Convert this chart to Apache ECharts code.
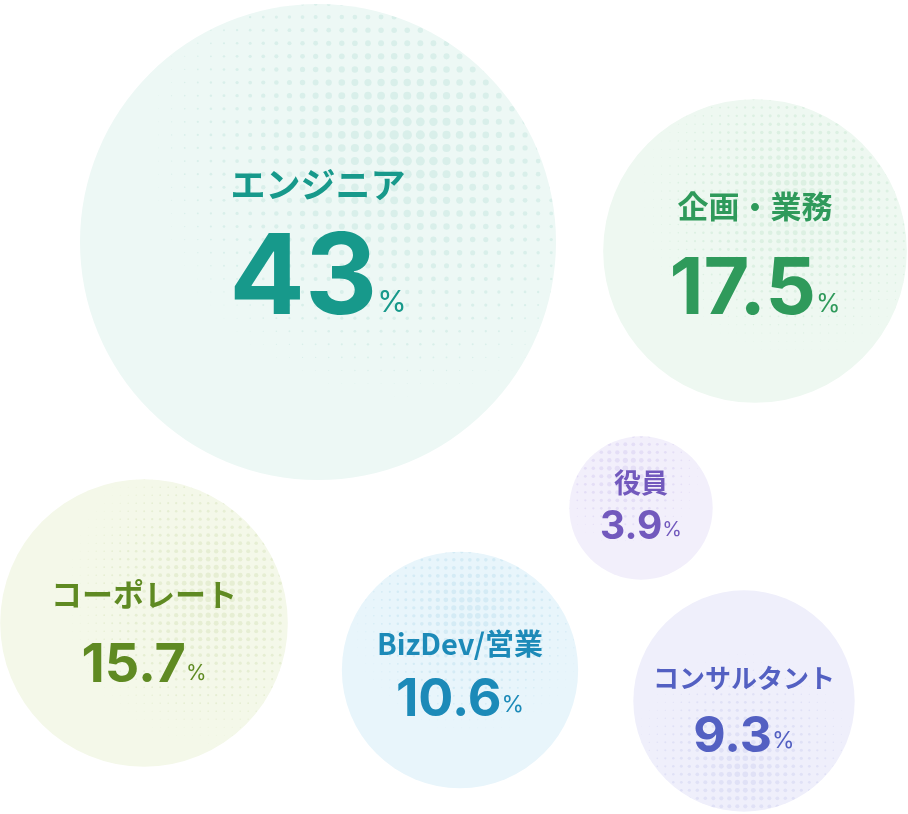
<!DOCTYPE html>
<html>
<head>
<meta charset="utf-8">
<script src="https://cdn.jsdelivr.net/npm/echarts@6/dist/echarts.min.js"></script>
<style>
  html, body { margin: 0; padding: 0; background: #fff; }
  #chart { width: 908px; height: 814px; }
</style>
</head>
<body>
<div id="chart"></div>
<script>
// Data
const names = ["エンジニア", "企画・業務", "役員", "コーポレート", "BizDev/営業", "コンサルタント"];
const values = [43, 17.5, 3.9, 15.7, 10.6, 9.3];
const posX = [318, 755, 641, 144, 460, 744];
const posY = [242, 251, 508, 623, 670, 701];

// Styles
const textColors = ["#17998b", "#2f9a5b", "#7259bd", "#5f8a22", "#1c8ab8", "#5360c2"];
const fillColors = ["#edf8f5", "#eef8f1", "#f2effb", "#f4f8e9", "#e8f5fb", "#efeffb"];
const dotColors = ["#d9efea", "#dcf0e2", "#e4def6", "#e6eed3", "#d4ebf5", "#e0e1f6"];
// [nameSize, numSize, pctSize, nameOffsetY, numOffsetY]
const labelStyles = [
  [35, 112, 30, -57, 38],
  [31, 79, 25, -45, 39],
  [27, 39, 20, -25, 19],
  [31, 54, 21, -29, 43],
  [29, 52, 23, -26, 30],
  [26, 50, 23, -23, 36],
];
// halftone hot spot, fraction of radius
const hotSpots = [[0.35, -0.4], [0.3, -0.35], [-0.2, -0.5], [0.5, -0.2], [0.1, -0.5], [0.0, 0.6]];

const BIG_R = 238; // radius of the 43% bubble
const radiusOf = (v) => BIG_R * Math.sqrt(v / values[0]);

// Halftone pattern per bubble
const patterns = {};
const makeHalftone = (i, cx, cy, r) => {
  const c = document.createElement("canvas");
  c.width = 908;
  c.height = 814;
  const ctx = c.getContext("2d");
  ctx.fillStyle = fillColors[i];
  ctx.fillRect(0, 0, c.width, c.height);
  const step = Math.max(8, r * 0.055);
  const hx = cx + hotSpots[i][0] * r;
  const hy = cy + hotSpots[i][1] * r;
  ctx.fillStyle = dotColors[i];
  for (let y = cy - r; y <= cy + r; y += step) {
    for (let x = cx - r; x <= cx + r; x += step) {
      const d = Math.hypot(x - hx, y - hy) / r;
      let s = 1.05 - d * 0.95;
      if (s <= 0.05) continue;
      s = Math.min(1, s);
      ctx.beginPath();
      ctx.arc(x, y, step * 0.36 * s, 0, Math.PI * 2);
      ctx.fill();
    }
  }
  return { image: c, repeat: "no-repeat" };
};

const chart = echarts.init(document.getElementById("chart"));

const option = {
  animation: false,
  grid: { left: 0, right: 0, top: 0, bottom: 0 },
  xAxis: { type: "value", min: 0, max: 908, show: false },
  yAxis: { type: "value", min: 0, max: 814, inverse: true, show: false },
  series: [
    {
      type: "custom",
      data: values.map((v, i) => [posX[i], posY[i], v, i]),
      renderItem: (params, api) => {
        const i = api.value(3);
        const pt = api.coord([api.value(0), api.value(1)]);
        const r = api.size([radiusOf(api.value(2)), 0])[0];
        if (!patterns[i]) patterns[i] = makeHalftone(i, pt[0], pt[1], r);
        const [ns, vs, ps, ny, vy] = labelStyles[i];
        const col = textColors[i];
        return {
          type: "group",
          children: [
            {
              type: "circle",
              shape: { cx: pt[0], cy: pt[1], r: r },
              style: { fill: patterns[i] },
            },
            {
              type: "text",
              x: pt[0],
              y: pt[1] + ny,
              style: {
                text: names[i],
                fill: col,
                fontSize: ns,
                fontWeight: "bold",
                fontFamily: "'Noto Sans CJK JP', 'Noto Sans', sans-serif",
                align: "center",
                verticalAlign: "middle",
              },
            },
            {
              type: "text",
              x: pt[0],
              y: pt[1] + vy,
              style: {
                text: "{v|" + values[i] + "}{p|%}",
                align: "center",
                verticalAlign: "middle",
                rich: {
                  v: {
                    fill: col,
                    fontSize: vs,
                    fontWeight: "bold",
                    fontFamily: "Inter, Lato, sans-serif",
                    lineHeight: vs,
                  },
                  p: {
                    fill: col,
                    fontSize: ps,
                    fontFamily: "Inter, Lato, sans-serif",
                    verticalAlign: "bottom",
                    lineHeight: ps,
                    padding: [0, 0, Math.round(vs * 0.15 + 1), 0],
                  },
                },
              },
            },
          ],
        };
      },
    },
  ],
};

chart.setOption(option);
window.addEventListener("resize", () => chart.resize());
</script>
</body>
</html>
